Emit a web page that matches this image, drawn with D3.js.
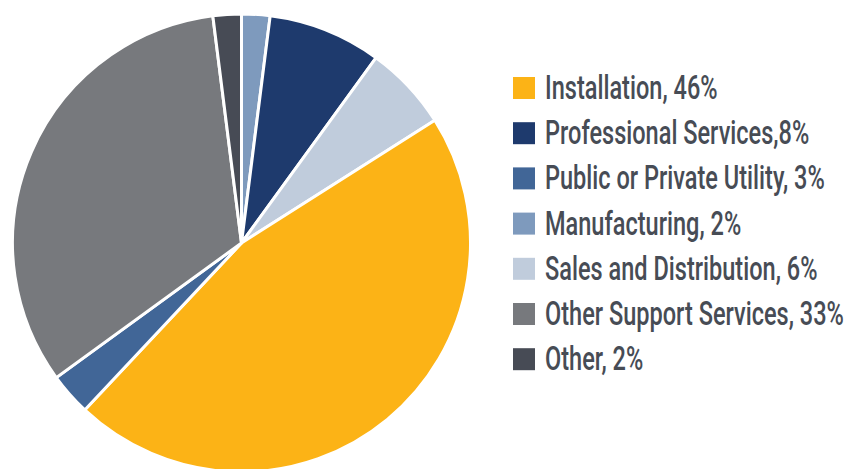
<!DOCTYPE html>
<html>
<head>
<meta charset="utf-8">
<script src="https://cdn.jsdelivr.net/npm/d3@7"></script>
<style>
  html, body { margin: 0; padding: 0; background: #ffffff; }
  svg { display: block; }
</style>
</head>
<body>
<svg id="chart" width="850" height="469"></svg>
<script>
// Workforce share by sector (percent), in legend order
const categories = [
  "Installation",
  "Professional Services",
  "Public or Private Utility",
  "Manufacturing",
  "Sales and Distribution",
  "Other Support Services",
  "Other"
];
const values = [46, 8, 3, 2, 6, 33, 2];
const legendLabels = [
  "Installation, 46%",
  "Professional Services,8%",
  "Public or Private Utility, 3%",
  "Manufacturing, 2%",
  "Sales and Distribution, 6%",
  "Other Support Services, 33%",
  "Other, 2%"
];
const colors = ["#FCB316", "#1E3A6D", "#416697", "#7E9ABD", "#C0CCDC", "#77797D", "#474B55"];

// Order of slices clockwise from 12 o'clock
const sliceOrder = [
  "Manufacturing",
  "Professional Services",
  "Sales and Distribution",
  "Installation",
  "Public or Private Utility",
  "Other Support Services",
  "Other"
];

const svg = d3.select("#chart");
const W = 850, H = 469;

const cx = 241.5, cy = 243, R = 229;

const color = d3.scaleOrdinal().domain(categories).range(colors);
const valueOf = new Map(categories.map((c, i) => [c, values[i]]));

const pie = d3.pie()
  .sort(null)
  .value(d => valueOf.get(d))
  .startAngle(0)
  .endAngle(2 * Math.PI);

const arc = d3.arc().innerRadius(0).outerRadius(R);

const g = svg.append("g").attr("transform", `translate(${cx},${cy})`);
g.selectAll("path.slice")
  .data(pie(sliceOrder))
  .join("path")
  .attr("class", "slice")
  .attr("d", arc)
  .attr("fill", d => color(d.data))
  .attr("stroke", "#ffffff")
  .attr("stroke-width", 3)
  .attr("stroke-linejoin", "miter");

// Legend
const legendX = 513, legendY = 77, rowH = 45.2, sw = 22, textX = 545;
const maxTextWidth = W - textX - 6;

const legend = svg.append("g");
const rows = legend.selectAll("g.row")
  .data(categories)
  .join("g")
  .attr("class", "row")
  .attr("transform", (d, i) => `translate(0,${legendY + i * rowH})`);

rows.append("rect")
  .attr("x", legendX)
  .attr("y", 0)
  .attr("width", sw)
  .attr("height", sw)
  .attr("fill", d => color(d));

const texts = rows.append("text")
  .attr("x", 0)
  .attr("y", 0)
  .attr("font-family", "Roboto, 'DejaVu Sans', sans-serif")
  .attr("font-weight", 500)
  .attr("font-size", 33)
  .attr("fill", "#474C55")
  .text((d, i) => legendLabels[i]);

// Condense the legend type so the longest label fits the available width
let widest = 0;
texts.each(function () { widest = Math.max(widest, this.getComputedTextLength()); });
const squeeze = Math.min(1, maxTextWidth / widest);
texts.attr("transform", `translate(${textX},${sw}) scale(${squeeze},1)`);
</script>
</body>
</html>
